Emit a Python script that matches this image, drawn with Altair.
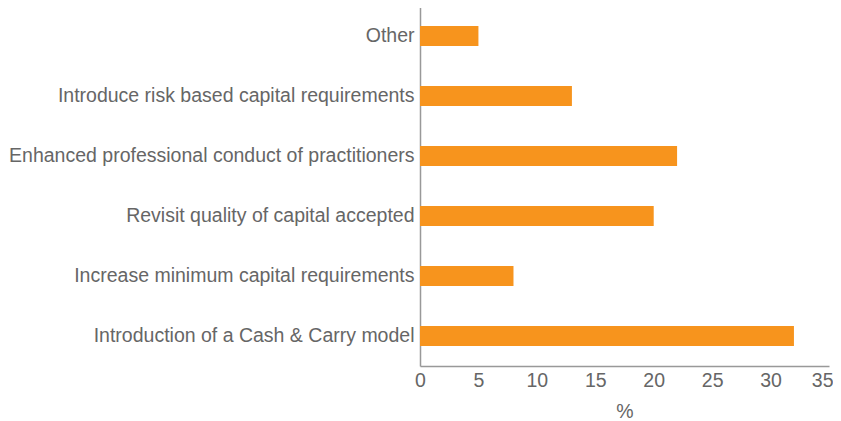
import altair as alt
import pandas as pd

categories = [
    "Other",
    "Introduce risk based capital requirements",
    "Enhanced professional conduct of practitioners",
    "Revisit quality of capital accepted",
    "Increase minimum capital requirements",
    "Introduction of a Cash & Carry model",
]
values = [5, 13, 22, 20, 8, 32]
x_ticks = [0, 5, 10, 15, 20, 25, 30, 35]

df = pd.DataFrame({"category": categories, "value": values})

FONT = "Liberation Sans"
GREY = "#666666"
FS = 19.5

chart = alt.Chart(df).mark_bar(color="#F7941D").encode(
    x=alt.X(
        "value:Q",
        title="%",
        scale=alt.Scale(domain=[0, 35], nice=False),
        axis=alt.Axis(
            values=x_ticks,
            grid=False,
            ticks=False,
            labelFlush=False,
            labelAlign={"expr": "datum.value === 35 ? 'right' : 'center'"},
            labelOffset={"expr": "datum.value === 35 ? 4 : 0"},
            labelPadding=5,
            labelFontSize=FS,
            labelColor=GREY,
            labelFont=FONT,
            titleFont=FONT,
            titleFontSize=FS,
            titleFontWeight="normal",
            titleColor=GREY,
            titlePadding=13,
            domainColor="#999999",
            domainWidth=1.5,
        ),
    ),
    y=alt.Y(
        "category:N",
        sort=categories,
        title=None,
        scale=alt.Scale(paddingInner=2 / 3, paddingOuter=1 / 3),
        axis=alt.Axis(
            ticks=False,
            grid=False,
            labelPadding=6,
            labelFontSize=FS,
            labelColor=GREY,
            labelFont=FONT,
            labelLimit=600,
            domainColor="#999999",
            domainWidth=1.5,
        ),
    ),
).properties(
    width=409,
    height=360,
    autosize=alt.AutoSizeParams(type="none"),
    padding={"left": 412, "top": -2, "right": 4, "bottom": 57},
).configure_view(stroke=None)

chart.save("out.html", embed_options={"renderer": "svg", "actions": False})
